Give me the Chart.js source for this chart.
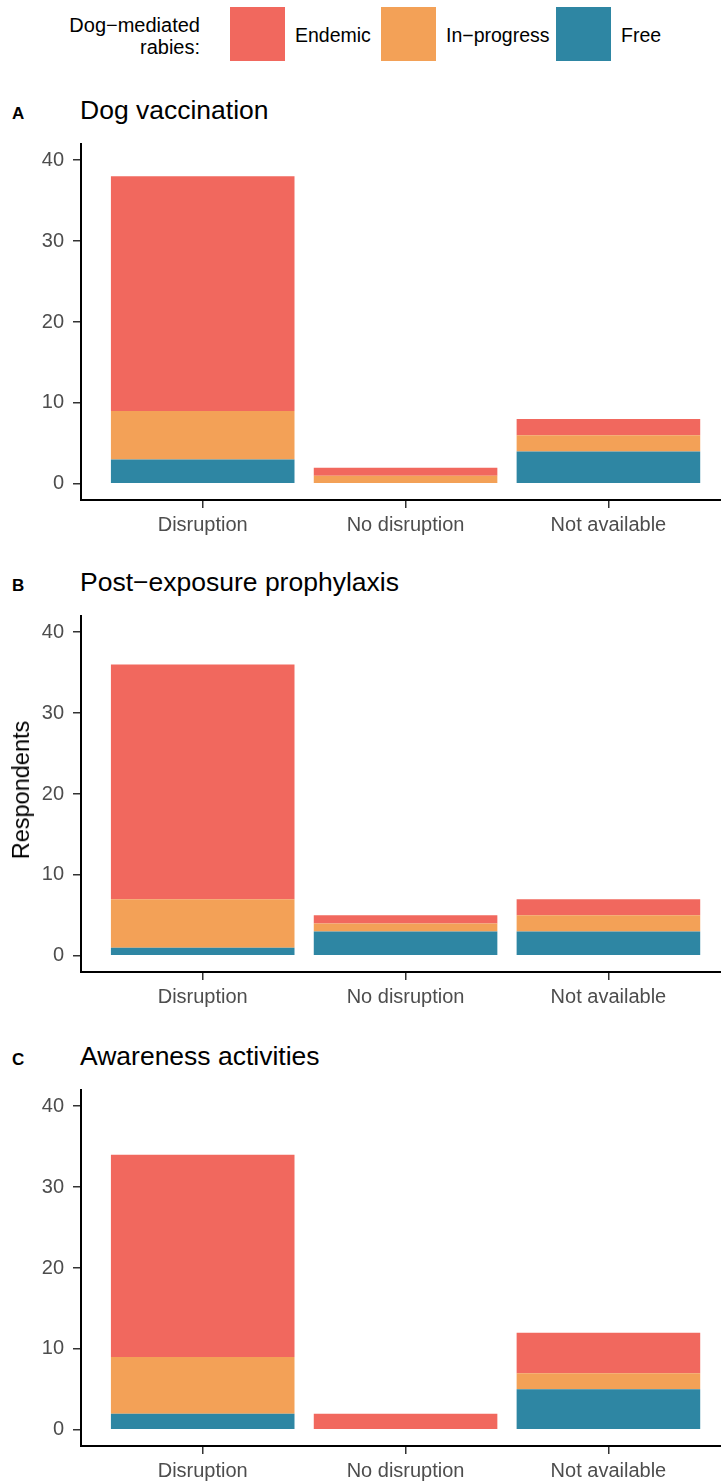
<!DOCTYPE html>
<html>
<head>
<meta charset="utf-8">
<script src="https://cdn.jsdelivr.net/npm/chart.js@4/dist/chart.umd.min.js"></script>
<style>
  html, body { margin: 0; padding: 0; background: #fff; }
  body { width: 721px; height: 1481px; position: relative; overflow: hidden; font-family: "Liberation Sans", Arial, sans-serif; }
  .abs { position: absolute; white-space: nowrap; }
  .legend-title { right: calc(721px - 200px); top: 14px; font-size: 20px; line-height: 22px; text-align: right; color: #000; }
  .swatch { top: 7px; width: 55px; height: 54px; }
  .legend-label { top: 24px; font-size: 19.5px; line-height: 22px; color: #000; }
  .panel-letter { font-size: 17px; line-height: 17px; font-weight: bold; color: #000; }
  .panel-title { font-size: 26.5px; line-height: 26px; color: #000; }
  .ylab { font-size: 23.5px; line-height: 24px; color: #000; transform: translate(-50%, -50%) rotate(-90deg); }
</style>
</head>
<body>
<div class="abs legend-title">Dog−mediated<br>rabies:</div>
<div id="legend"></div>
<div id="panels"></div>
<div class="abs ylab" style="left:21px; top:790px;">Respondents</div>
<script>
// categories and groups
const categories = ['Disruption', 'No disruption', 'Not available']
const statusLabels = ['Free', 'In−progress', 'Endemic']
const statusColors = ['#2E86A3', '#F3A157', '#F1685E']
const yTicks = [0, 10, 20, 30, 40]

// panel A: Dog vaccination
const vaccFree = [3, 0, 4]
const vaccProgress = [6, 1, 2]
const vaccEndemic = [29, 1, 2]

// panel B: Post-exposure prophylaxis
const pepFree = [1, 3, 3]
const pepProgress = [6, 1, 2]
const pepEndemic = [29, 1, 2]

// panel C: Awareness activities
const awareFree = [2, 0, 5]
const awareProgress = [7, 0, 2]
const awareEndemic = [25, 2, 5]

const panels = [
  { letter: 'A', title: 'Dog vaccination', y40: 160, series: [vaccFree, vaccProgress, vaccEndemic] },
  { letter: 'B', title: 'Post−exposure prophylaxis', y40: 632, series: [pepFree, pepProgress, pepEndemic] },
  { letter: 'C', title: 'Awareness activities', y40: 1106, series: [awareFree, awareProgress, awareEndemic] },
]

// legend (ggplot order: Endemic, In-progress, Free)
const legend = document.getElementById('legend')
const legendPos = [
  { idx: 2, swatch: 230, text: 295 },
  { idx: 1, swatch: 381, text: 446 },
  { idx: 0, swatch: 556, text: 621 },
]
legendPos.forEach(p => {
  const sw = document.createElement('div')
  sw.className = 'abs swatch'
  sw.style.left = p.swatch + 'px'
  sw.style.background = statusColors[p.idx]
  legend.appendChild(sw)
  const lab = document.createElement('div')
  lab.className = 'abs legend-label'
  lab.style.left = p.text + 'px'
  lab.textContent = p.idx === 2 ? 'Endemic' : statusLabels[p.idx]
  legend.appendChild(lab)
})

const unit = 8.1
const padTop = 10
const xAxisH = 50
const yAxisW = 81
const font = { family: '"Liberation Sans", Arial, sans-serif', size: 20 }

const holder = document.getElementById('panels')
panels.forEach(p => {
  const chartTop = p.y40 - 2 * unit
  const canvasTop = chartTop - padTop
  const h = Math.round(padTop + 44 * unit + xAxisH)

  const letter = document.createElement('div')
  letter.className = 'abs panel-letter'
  letter.style.left = '12px'
  letter.style.top = (p.y40 - 55) + 'px'
  letter.textContent = p.letter
  holder.appendChild(letter)

  const title = document.createElement('div')
  title.className = 'abs panel-title'
  title.style.left = '80px'
  title.style.top = (p.y40 - 63) + 'px'
  title.textContent = p.title
  holder.appendChild(title)

  const wrap = document.createElement('div')
  wrap.className = 'abs'
  wrap.style.left = '0px'
  wrap.style.top = canvasTop + 'px'
  const canvas = document.createElement('canvas')
  canvas.width = 721
  canvas.height = h
  wrap.appendChild(canvas)
  holder.appendChild(wrap)

  new Chart(canvas, {
    type: 'bar',
    data: {
      datasets: p.series.map((vals, i) => ({
        label: statusLabels[i],
        data: vals.map((v, j) => ({ x: j, y: v })),
        backgroundColor: statusColors[i],
        borderWidth: 0,
        categoryPercentage: 1,
        barPercentage: 0.905,
      })),
    },
    options: {
      responsive: false,
      devicePixelRatio: 1,
      animation: false,
      layout: { padding: { top: padTop, right: 0, left: 0, bottom: 0 } },
      plugins: { legend: { display: false }, tooltip: { enabled: false } },
      scales: {
        x: {
          type: 'linear',
          stacked: true,
          offset: false,
          min: -0.6,
          max: 2.555,
          afterBuildTicks: s => { s.ticks = categories.map((c, i) => ({ value: i })) },
          afterFit: s => { s.height = xAxisH; s.paddingLeft = 0; s.paddingRight = 0 },
          ticks: { callback: v => categories[v], color: '#4D4D4D', font, padding: 5, maxRotation: 0, autoSkip: false },
          grid: { display: true, offset: false, drawOnChartArea: false, drawTicks: true, tickLength: 8, color: '#333', lineWidth: 1.5 },
          border: { display: true, color: '#000', width: 2 },
        },
        y: {
          stacked: true,
          min: -2,
          max: 42,
          afterBuildTicks: s => { s.ticks = yTicks.map(v => ({ value: v })) },
          afterFit: s => { s.width = yAxisW; s.paddingTop = 0; s.paddingBottom = 0 },
          ticks: { color: '#4D4D4D', font, padding: 9 },
          grid: { display: true, drawOnChartArea: false, drawTicks: true, tickLength: 8, color: '#333', lineWidth: 1.5 },
          border: { display: true, color: '#000', width: 2 },
        },
      },
    },
  })
})
</script>
</body>
</html>
